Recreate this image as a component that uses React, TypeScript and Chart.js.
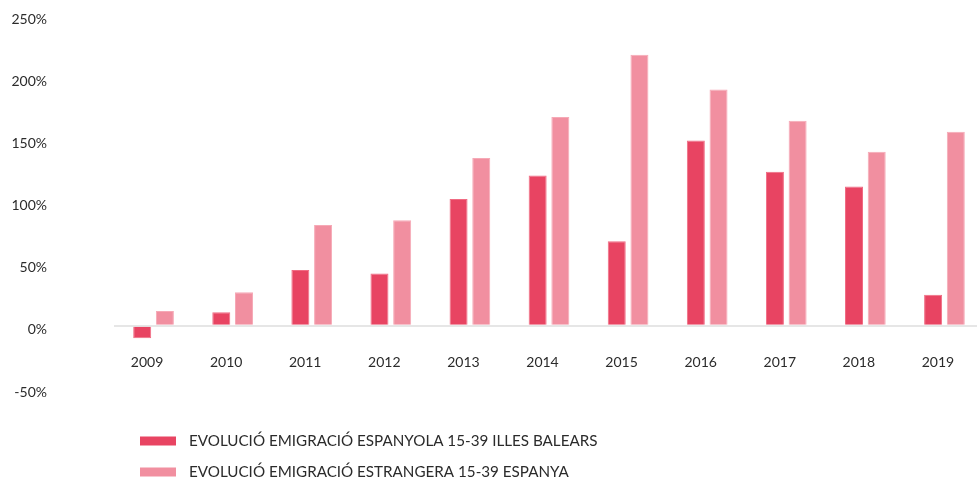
import React, { useEffect, useRef } from "react";
import { Chart, registerables } from "chart.js";

Chart.register(...registerables);

const categories = ["2009", "2010", "2011", "2012", "2013", "2014", "2015", "2016", "2017", "2018", "2019"];
const balearsValues = [-10, 11, 45, 42, 102, 121, 68, 149, 124, 112, 25];
const espanyaValues = [12, 27, 81, 85, 135, 168, 218, 190, 165, 140, 156];
const seriesLabels = [
  "EVOLUCIÓ EMIGRACIÓ ESPANYOLA 15-39 ILLES BALEARS",
  "EVOLUCIÓ EMIGRACIÓ ESTRANGERA 15-39 ESPANYA",
];
const yMin = -50;
const yMax = 250;
const yStep = 50;

const FONT = "Lato, 'Open Sans', sans-serif";
const TEXT = "#2b2b2b";

const legendPlugin = {
  id: "customLegend",
  afterDraw(chart: any) {
    const ctx = chart.ctx;
    ctx.save();
    chart.data.datasets.forEach((ds: any, i: number) => {
      const cy = 441 + i * 31;
      ctx.fillStyle = ds.backgroundColor;
      ctx.fillRect(140, cy - 4.5, 36, 9);
      ctx.fillStyle = TEXT;
      ctx.font = `15.2px ${FONT}`;
      ctx.textBaseline = "middle";
      ctx.textAlign = "left";
      ctx.fillText(ds.label, 189, cy);
    });
    ctx.restore();
  },
};

export default function App() {
  const ref = useRef<HTMLCanvasElement | null>(null);
  useEffect(() => {
    if (!ref.current) return;
    const chart = new Chart(ref.current, {
      type: "bar",
      data: {
        labels: categories,
        datasets: [
          {
            label: seriesLabels[0],
            data: balearsValues,
            backgroundColor: "#E84462",
            borderColor: "#F06B83",
            borderWidth: 1,
            categoryPercentage: 0.574,
            barPercentage: 0.793,
          },
          {
            label: seriesLabels[1],
            data: espanyaValues,
            backgroundColor: "#F18FA0",
            borderColor: "#F6A9B6",
            borderWidth: 1,
            categoryPercentage: 0.574,
            barPercentage: 0.793,
          },
        ],
      },
      options: {
        responsive: false,
        animation: false,
        devicePixelRatio: 1,
        layout: { padding: { left: 0, right: 6, top: 15, bottom: 90 } },
        plugins: {
          legend: { display: false },
          tooltip: { enabled: false },
        },
        scales: {
          x: {
            position: { y: 0 } as any,
            afterFit(scale: any) {
              scale.height = 0;
            },
            grid: { display: false, drawTicks: false },
            border: { display: false },
            ticks: {
              color: TEXT,
              font: { family: FONT, size: 14 },
              padding: 28,
              labelOffset: -6.5,
              maxRotation: 0,
            },
          },
          y: {
            min: yMin,
            max: yMax,
            afterFit(scale: any) {
              scale.width = 114;
              scale.paddingTop = 0;
              scale.paddingBottom = 0;
            },
            grid: {
              drawTicks: false,
              lineWidth: 2,
              color: (c: any) => (c.tick && c.tick.value === 0 ? "#e6e6e6" : "rgba(0,0,0,0)"),
            },
            border: { display: false },
            ticks: {
              stepSize: yStep,
              color: TEXT,
              font: { family: FONT, size: 14 },
              padding: 67,
              labelOffset: 4,
              callback: (v: any) => `${v}%`,
            },
          },
        },
      },
      plugins: [legendPlugin],
    });
    return () => chart.destroy();
  }, []);
  return (
    <div style={{ position: "fixed", left: 0, top: 0, width: 977, height: 478, overflow: "hidden", background: "#fff" }}>
      <canvas ref={ref} width={990} height={478} style={{ width: 990, height: 478, display: "block" }} />
    </div>
  );
}
